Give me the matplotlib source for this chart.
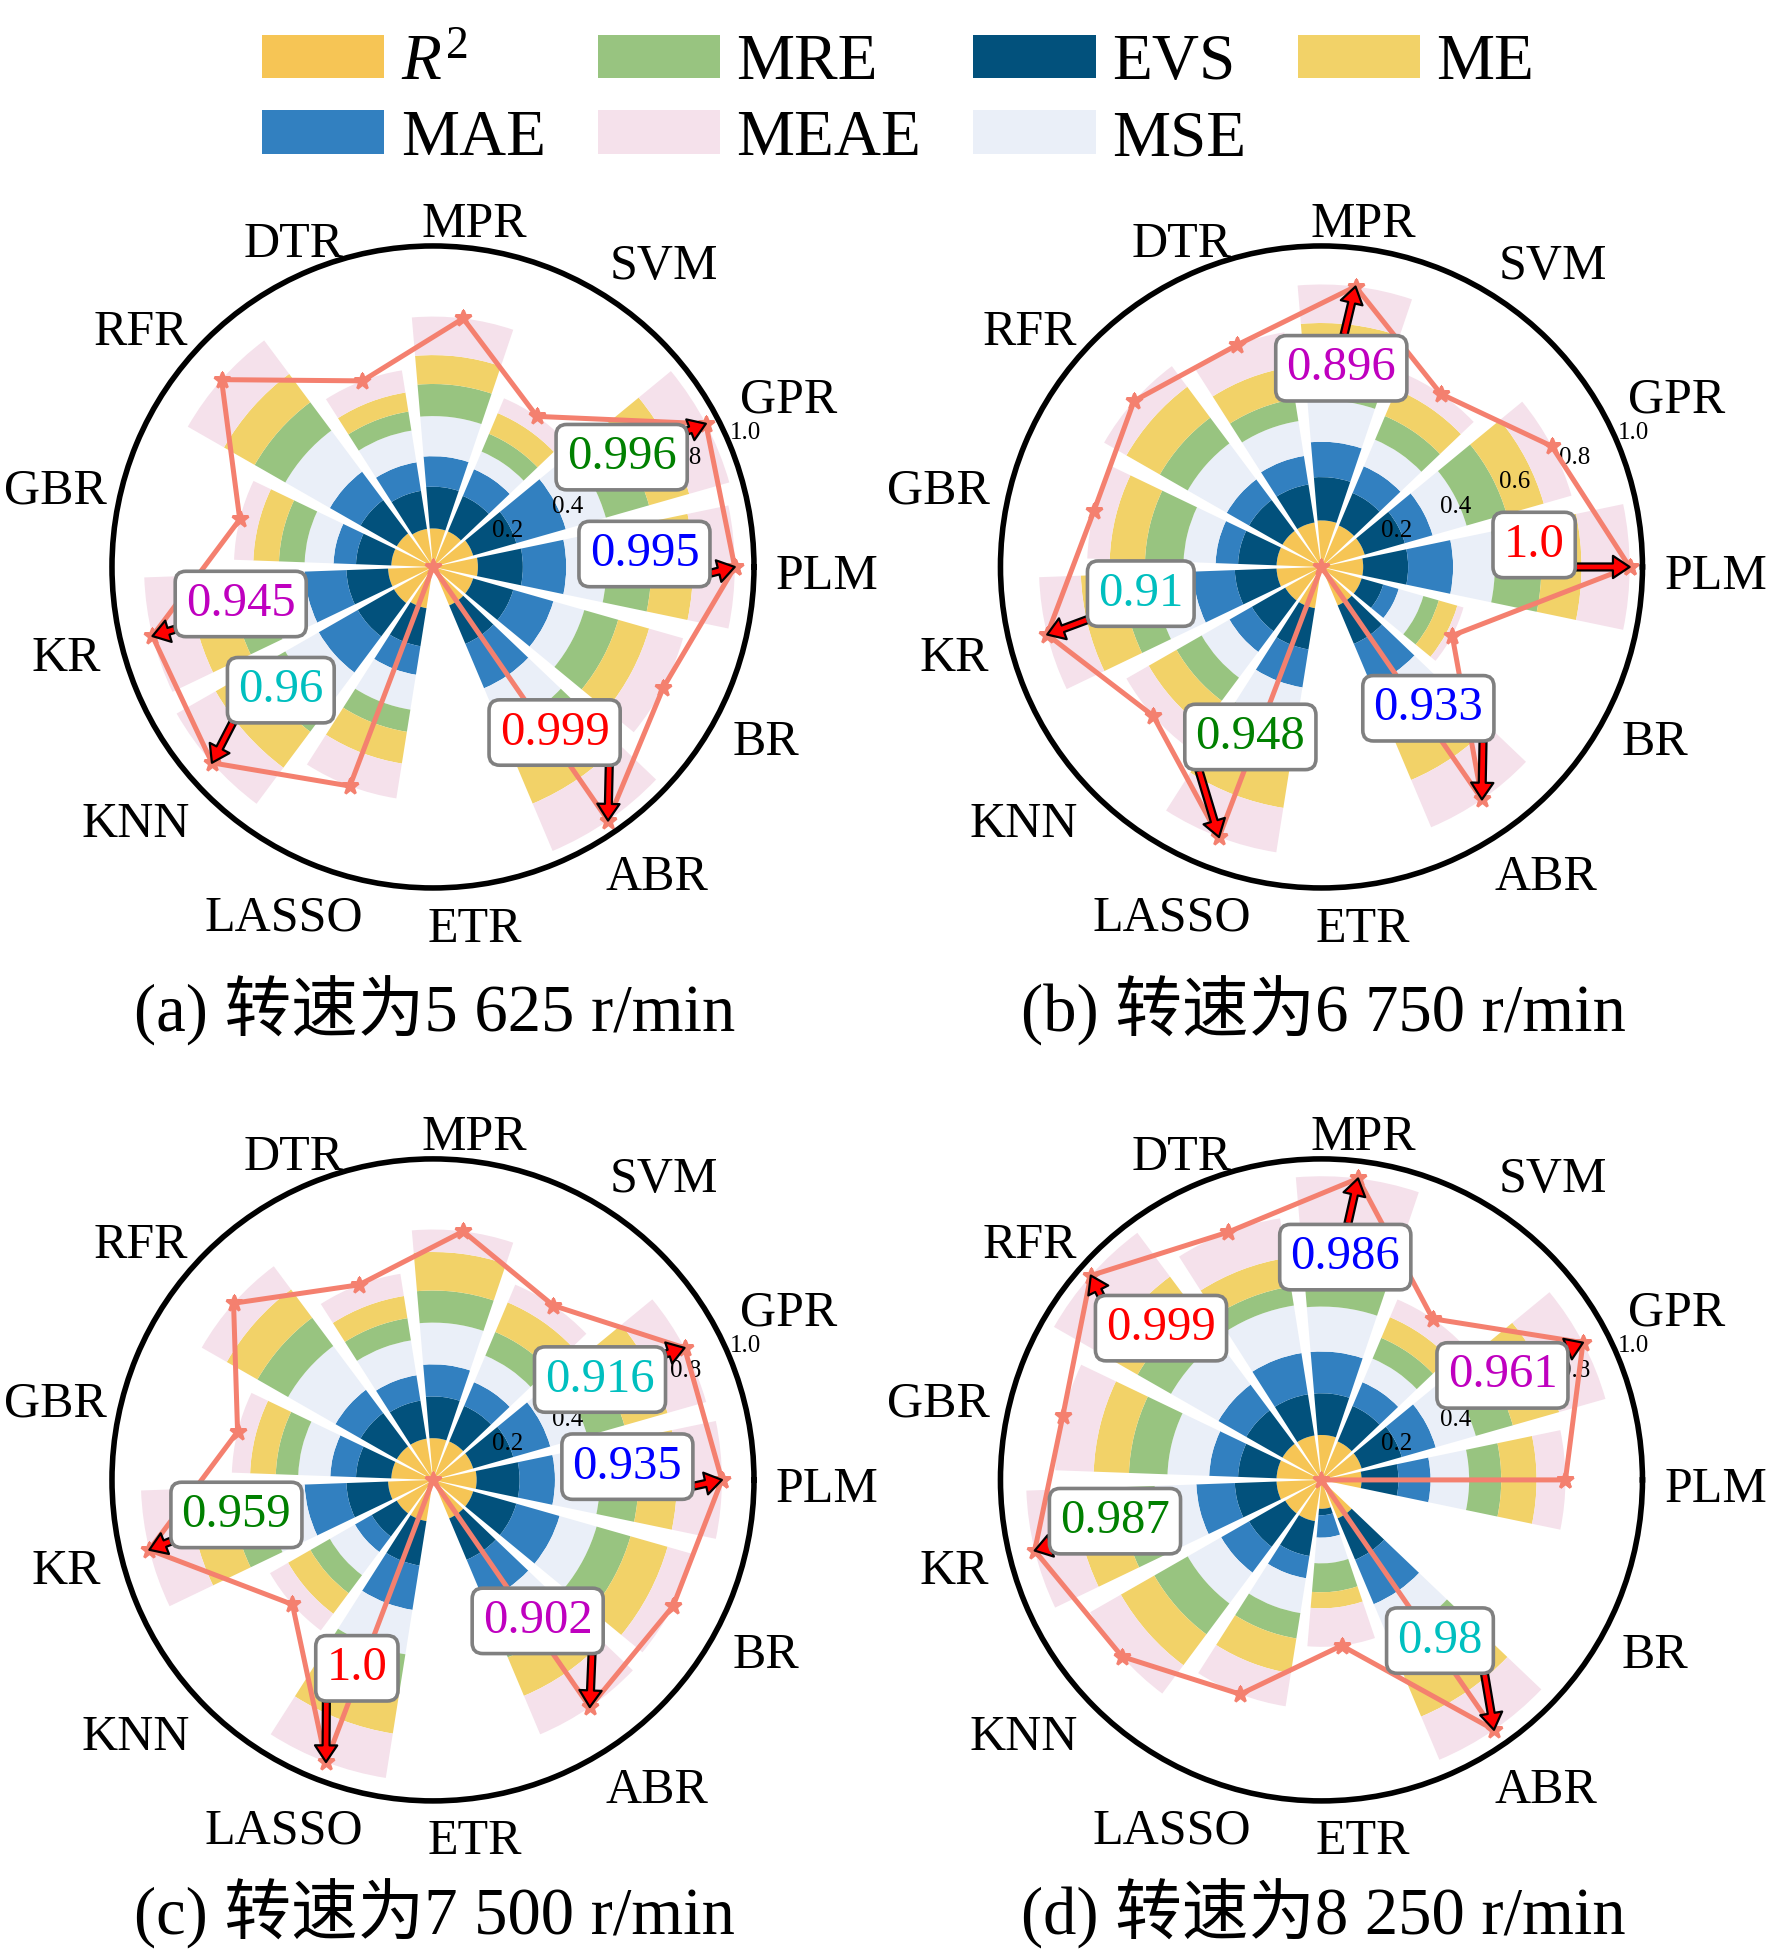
import numpy as np
import matplotlib
matplotlib.use('Agg')
import matplotlib.pyplot as plt
from matplotlib.patches import Patch

plt.rcParams['font.family'] = ['Liberation Serif', 'Noto Sans CJK SC', 'DejaVu Sans']
plt.rcParams['mathtext.fontset'] = 'custom'
plt.rcParams['mathtext.rm'] = 'Liberation Serif'
plt.rcParams['mathtext.it'] = 'Liberation Serif:italic'

# models, counter-clockwise starting from the east
models = ['PLM', 'GPR', 'SVM', 'MPR', 'DTR', 'RFR', 'GBR', 'KR', 'KNN', 'LASSO', 'ETR', 'ABR', 'BR']
metric_names = ['$R^2$', 'EVS', 'MAE', 'MSE', 'MRE', 'ME', 'MEAE']
metric_colors = ['#F6C555', '#02517C', '#3280C0', '#EAEFF8', '#98C480', '#F2D268', '#F5E1EB']
note_colors = ['red', 'green', 'blue', 'c', 'm']

# (a) 5 625 r/min
r2_a = [0.14, 0.13, 0.12, 0.12, 0.12, 0.13, 0.13, 0.14, 0.14, 0.13, 0, 0.13, 0.13]
evs_a = [0.14, 0.14, 0.12, 0.13, 0.12, 0.13, 0.11, 0.13, 0.13, 0.12, 0, 0.13, 0.13]
mae_a = [0.135, 0.16, 0.09, 0.095, 0.09, 0.11, 0.07, 0.13, 0.14, 0.09, 0, 0.15, 0.13]
mse_a = [0.125, 0.13, 0.06, 0.125, 0.10, 0.16, 0.09, 0.12, 0.12, 0.11, 0, 0.14, 0.10]
mre_a = [0.14, 0.14, 0.06, 0.10, 0.06, 0.11, 0.08, 0.11, 0.11, 0.07, 0, 0.11, 0.11]
me_a = [0.13, 0.13, 0.07, 0.09, 0.06, 0.11, 0.08, 0.13, 0.14, 0.10, 0, 0.14, 0.10]
meae_a = [0.13, 0.13, 0.05, 0.12, 0.07, 0.13, 0.06, 0.14, 0.14, 0.11, 0, 0.16, 0.11]

# (b) 6 750 r/min
r2_b = [0.13, 0.14, 0.14, 0.145, 0.14, 0.14, 0.14, 0.14, 0.13, 0.13, 0, 0.13, 0.13]
evs_b = [0.14, 0.13, 0.11, 0.135, 0.12, 0.12, 0.12, 0.13, 0.12, 0.13, 0, 0.13, 0.07]
mae_b = [0.14, 0.09, 0.09, 0.11, 0.09, 0.08, 0.07, 0.13, 0.08, 0.12, 0, 0.14, 0.05]
mse_b = [0.13, 0.11, 0.09, 0.13, 0.11, 0.14, 0.10, 0.12, 0.10, 0.12, 0, 0.09, 0.08]
mre_b = [0.145, 0.13, 0.08, 0.11, 0.07, 0.10, 0.12, 0.10, 0.09, 0.12, 0, 0.09, 0.05]
me_b = [0.125, 0.12, 0.09, 0.13, 0.10, 0.12, 0.11, 0.13, 0.10, 0.14, 0, 0.14, 0.06]
meae_b = [0.15, 0.09, 0.055, 0.12, 0.11, 0.08, 0.07, 0.13, 0.08, 0.14, 0, 0.16, 0.02]

# (c) 7 500 r/min
r2_c = [0.136, 0.13, 0.13, 0.13, 0.13, 0.13, 0.13, 0.14, 0.13, 0.13, 0, 0.13, 0.13]
evs_c = [0.134, 0.13, 0.12, 0.13, 0.12, 0.13, 0.11, 0.13, 0.09, 0.14, 0, 0.14, 0.14]
mae_c = [0.11, 0.12, 0.08, 0.10, 0.08, 0.09, 0.08, 0.13, 0.06, 0.14, 0, 0.14, 0.14]
mse_c = [0.14, 0.12, 0.09, 0.13, 0.11, 0.17, 0.10, 0.12, 0.09, 0.14, 0, 0.09, 0.12]
mre_c = [0.12, 0.12, 0.08, 0.10, 0.07, 0.11, 0.07, 0.11, 0.07, 0.11, 0, 0.10, 0.11]
me_c = [0.12, 0.14, 0.10, 0.12, 0.07, 0.11, 0.08, 0.13, 0.08, 0.14, 0, 0.13, 0.12]
meae_c = [0.14, 0.125, 0.06, 0.07, 0.07, 0.09, 0.057, 0.15, 0.065, 0.14, 0, 0.13, 0.085]

# (d) 8 250 r/min
r2_d = [0.125, 0.13, 0.13, 0.14, 0.14, 0.14, 0.14, 0.14, 0.13, 0.13, 0.09, 0.13, 0]
evs_d = [0.115, 0.13, 0.12, 0.13, 0.13, 0.13, 0.12, 0.13, 0.13, 0.11, 0.02, 0.14, 0]
mae_d = [0.10, 0.11, 0.08, 0.13, 0.13, 0.10, 0.09, 0.12, 0.10, 0.07, 0.07, 0.15, 0]
mse_d = [0.12, 0.13, 0.08, 0.14, 0.15, 0.17, 0.13, 0.13, 0.12, 0.11, 0.08, 0.12, 0]
mre_d = [0.10, 0.12, 0.07, 0.12, 0.06, 0.12, 0.12, 0.11, 0.12, 0.08, 0.09, 0.12, 0]
me_d = [0.11, 0.15, 0.07, 0.14, 0.09, 0.13, 0.11, 0.14, 0.12, 0.11, 0.05, 0.14, 0]
meae_d = [0.09, 0.15, 0.06, 0.146, 0.125, 0.17, 0.12, 0.15, 0.11, 0.104, 0.12, 0.146, 0]

# best-five annotations: (model, text, text angle in deg, text radius)
notes_a = [('ABR', '0.999', 306.3, 0.64), ('GPR', '0.996', 30.2, 0.68), ('PLM', '0.995', 3.5, 0.66),
           ('KNN', '0.96', 219.0, 0.61), ('KR', '0.945', 190.9, 0.61)]
notes_b = [('PLM', '1.0', 5.9, 0.666), ('LASSO', '0.948', 247.3, 0.574), ('ABR', '0.933', 307.1, 0.552),
           ('KR', '0.91', 188.4, 0.569), ('MPR', '0.896', 84.3, 0.622)]
notes_c = [('LASSO', '1.0', 248.0, 0.633), ('KR', '0.959', 190.1, 0.622), ('PLM', '0.935', 3.9, 0.607),
           ('GPR', '0.916', 31.0, 0.607), ('ABR', '0.902', 306.6, 0.547)]
notes_d = [('RFR', '0.999', 136.6, 0.688), ('KR', '0.987', 191.3, 0.656), ('MPR', '0.986', 83.9, 0.698),
           ('ABR', '0.98', 306.4, 0.622), ('GPR', '0.961', 30.0, 0.651)]

titles = ['(a) 转速为5 625 r/min', '(b) 转速为6 750 r/min', '(c) 转速为7 500 r/min', '(d) 转速为8 250 r/min']


def draw_panel(fig, ax, stacks, notes):
    n = len(models)
    angles = np.linspace(0, 2 * np.pi, n, endpoint=False)
    width = 2 * np.pi / n * 0.85
    bottom = np.zeros(n)
    for vals, color in zip(stacks, metric_colors):
        ax.bar(angles, vals, width=width, bottom=bottom, color=color, linewidth=0)
        bottom = bottom + np.array(vals)

    ax.plot(np.append(angles, angles[0]), np.append(bottom, bottom[0]),
            color='#F4806F', lw=1.8, marker='*', ms=6)

    ax.set_ylim(0, 1.0)
    ax.set_yticks([0.2, 0.4, 0.6, 0.8, 1.0])
    ax.set_yticklabels(['0.2', '0.4', '0.6', '0.8', '1.0'], fontsize=9)
    ax.set_xticks(angles)
    ax.set_xticklabels([])
    ax.grid(False)
    ax.spines['polar'].set_linewidth(2.0)

    # model names just outside the circle, pushed out sideways by their width
    renderer = fig.canvas.get_renderer()
    for name, a in zip(models, angles):
        c, s = np.cos(a), np.sin(a)
        t = ax.annotate(name, xy=(a, 1.0), xytext=(0, 0), textcoords='offset pixels',
                        ha='center', va='center', fontsize=18, annotation_clip=False)
        w = t.get_window_extent(renderer).width
        if abs(c) < 0.2:
            dx = c * 22
            dy = s * 44 - 10 - 10 * np.sign(s)
        else:
            dx = c * (22 + w / 2)
            dy = s * (27 + abs(c) * w / 2) - 10 - 10 * np.sign(s)
            if c > 0.3 and s > 0.3:
                dx += 10 * c
                dy += 10 * s
        x0 = ax.transData.transform((a, 1.0))[0]
        if x0 + dx - w / 2 < 4:
            dx = 4 - x0 + w / 2
        t.xyann = (dx, dy)

    for (model, label, t_deg, t_r), color in zip(notes, note_colors):
        i = models.index(model)
        ax.annotate(label, xy=(angles[i], bottom[i]), xytext=(np.deg2rad(t_deg), t_r),
                    color=color, fontsize=17.5, ha='center', va='center',
                    bbox=dict(boxstyle='round,pad=0.22', fc='white', ec='gray', lw=1.3),
                    arrowprops=dict(facecolor='red', edgecolor='black', width=2.5,
                                    headwidth=8, headlength=6, shrink=0, lw=0.8))


fig = plt.figure(figsize=(8.86, 9.76), dpi=200)

stacks_all = [
    [r2_a, evs_a, mae_a, mse_a, mre_a, me_a, meae_a],
    [r2_b, evs_b, mae_b, mse_b, mre_b, me_b, meae_b],
    [r2_c, evs_c, mae_c, mse_c, mre_c, me_c, meae_c],
    [r2_d, evs_d, mae_d, mse_d, mre_d, me_d, meae_d],
]
notes_all = [notes_a, notes_b, notes_c, notes_d]
rects = [[0.0632, 0.5451, 0.3623, 0.3289], [0.5646, 0.5451, 0.3623, 0.3289],
         [0.0632, 0.0774, 0.3623, 0.3289], [0.5646, 0.0774, 0.3623, 0.3289]]
title_pos = [(0.2453, 0.482), (0.747, 0.482), (0.2453, 0.0195), (0.747, 0.0195)]

for rect, stacks, notes, title, tp in zip(rects, stacks_all, notes_all, titles, title_pos):
    ax = fig.add_axes(rect, projection='polar')
    draw_panel(fig, ax, stacks, notes)
    fig.text(tp[0], tp[1], title, ha='center', va='center', fontsize=24)

order = [0, 2, 4, 6, 1, 3, 5]
handles = [Patch(facecolor=metric_colors[i]) for i in order]
labels = [metric_names[i] for i in order]
fig.legend(handles, labels, loc='center', bbox_to_anchor=(0.507, 0.948), ncol=4, frameon=False,
           fontsize=23.5, handlelength=1.87, handleheight=0.65, handletextpad=0.25,
           columnspacing=0.8, labelspacing=0.25)

fig.savefig('out.png', dpi=200)
